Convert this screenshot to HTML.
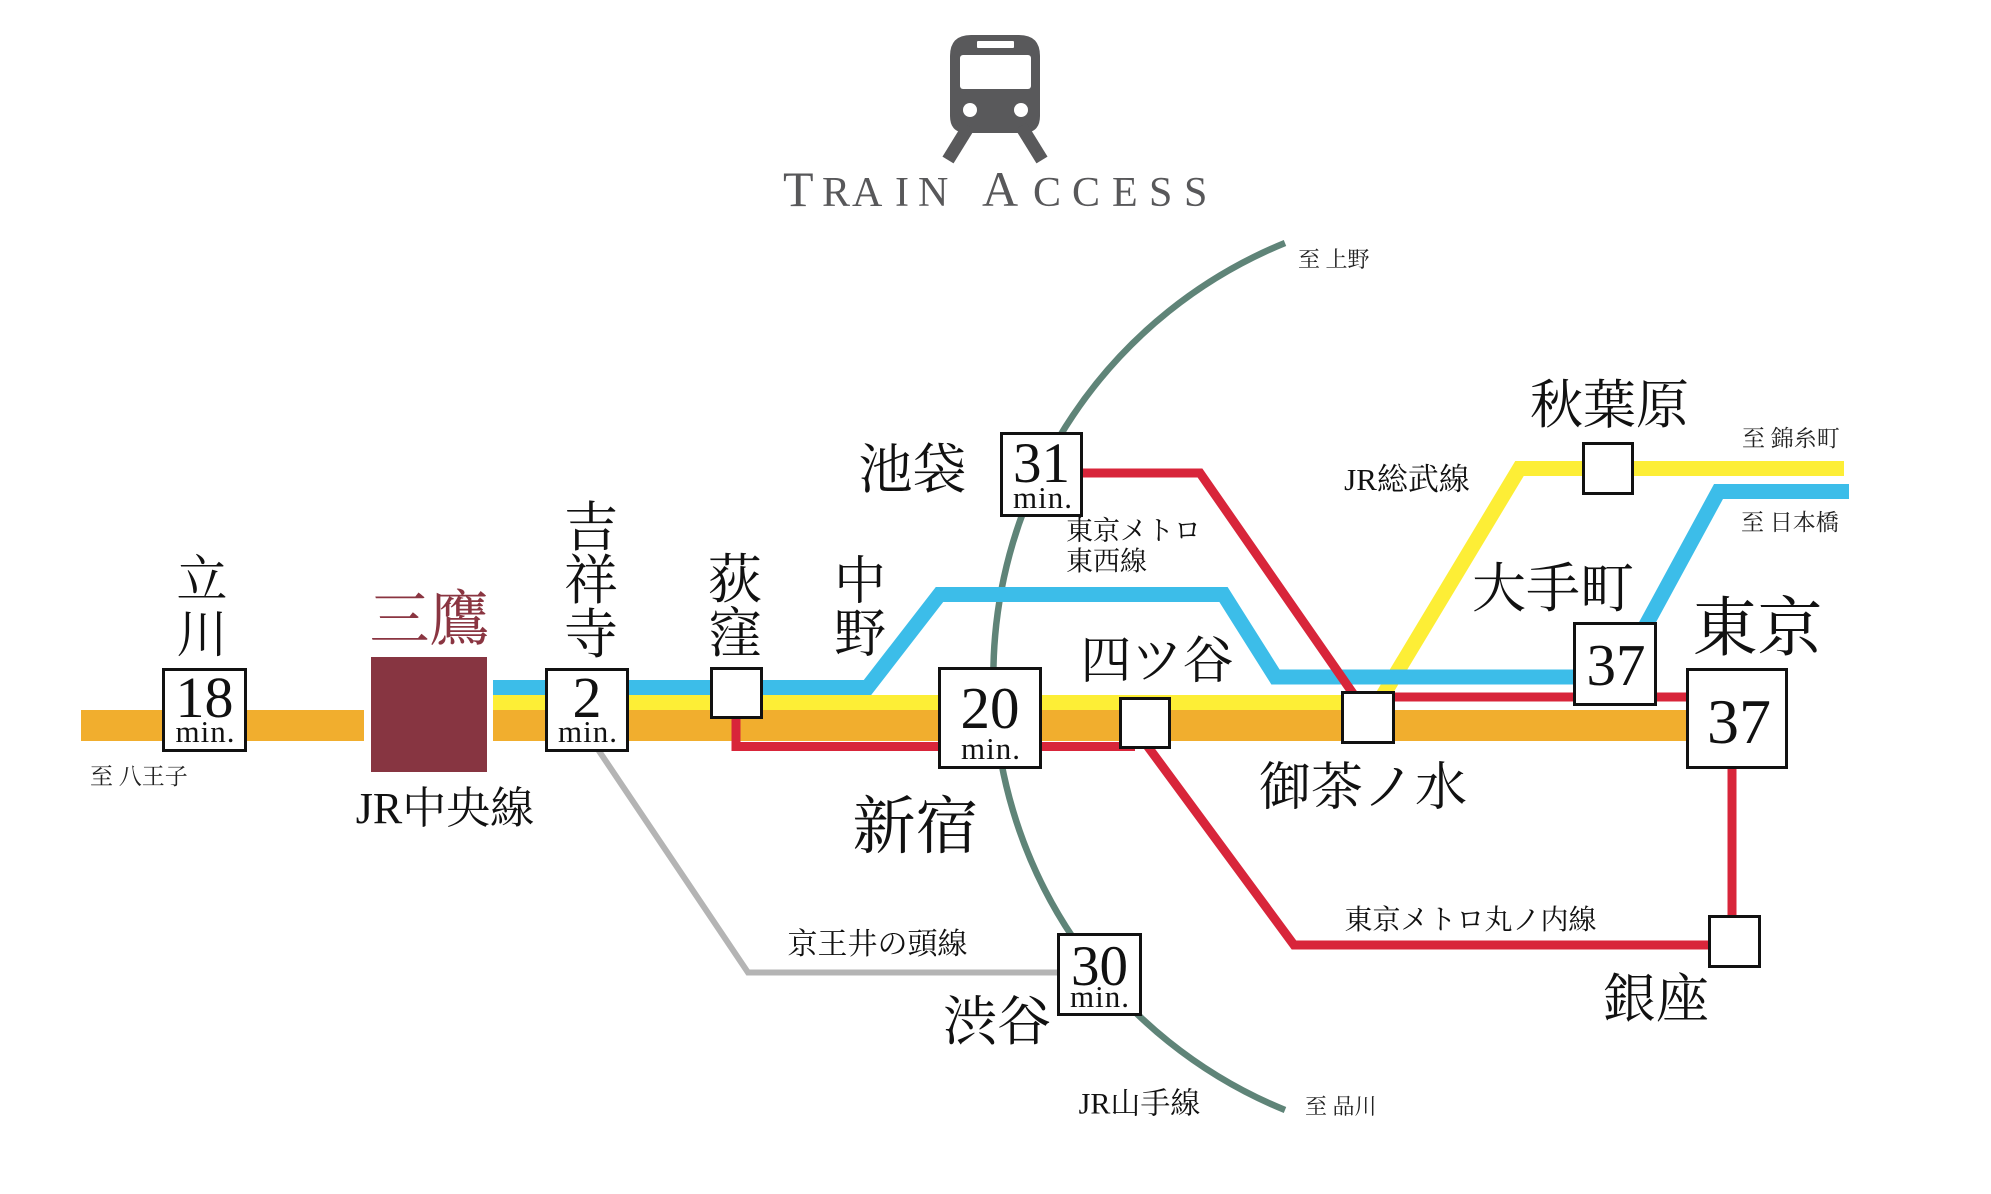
<!DOCTYPE html>
<html>
<head>
<meta charset="utf-8">
<style>
html,body{margin:0;padding:0;background:#fff;}
svg{display:block;}
.k{font-family:"Liberation Serif","Noto Serif CJK SC","Noto Serif CJK JP",serif;fill:#111;}
.n{font-family:"Liberation Serif",serif;fill:#111;}
.s{font-family:"Liberation Serif","Noto Serif CJK SC",serif;fill:#222;}
.t{font-family:"Liberation Serif",serif;fill:#58585a;}
</style>
</head>
<body>
<svg width="1991" height="1194" viewBox="0 0 1991 1194" xmlns="http://www.w3.org/2000/svg">
<rect width="1991" height="1194" fill="#fff"/>

<!-- Train icon -->
<g fill="#59595b">
  <path d="M950,56 Q950,35 971,35 L1019,35 Q1040,35 1040,56 L1040,116 Q1040,133 1023,133 L967,133 Q950,133 950,116 Z"/>
  <line x1="969" y1="126" x2="948" y2="160" stroke="#59595b" stroke-width="13"/>
  <line x1="1021" y1="126" x2="1042" y2="160" stroke="#59595b" stroke-width="13"/>
</g>
<rect x="977" y="41" width="37" height="7" rx="1" fill="#fff"/>
<rect x="960" y="55" width="71" height="34" rx="3" fill="#fff"/>
<circle cx="970" cy="110" r="7" fill="#fff"/>
<circle cx="1021" cy="110" r="7" fill="#fff"/>

<!-- Title -->
<g class="t">
  <text x="783" y="206" font-size="50">T</text>
  <text x="822" y="206" font-size="42">R</text>
  <text x="852" y="206" font-size="42">A</text>
  <text x="895" y="206" font-size="42">I</text>
  <text x="918" y="206" font-size="42">N</text>
  <text x="982" y="206" font-size="50">A</text>
  <text x="1033" y="206" font-size="42">C</text>
  <text x="1072" y="206" font-size="42">C</text>
  <text x="1112" y="206" font-size="42">E</text>
  <text x="1149" y="206" font-size="42">S</text>
  <text x="1184" y="206" font-size="42">S</text>
</g>

<!-- Yamanote arc -->
<path d="M1285,243 A468,468 0 0,0 1285,1110" fill="none" stroke="#5f8478" stroke-width="6.5"/>

<!-- Orange JR Chuo -->
<rect x="81" y="710" width="283" height="31" fill="#f1ae2e"/>
<rect x="493" y="710" width="1200" height="31" fill="#f1ae2e"/>

<!-- Yellow Sobu -->
<rect x="493" y="695" width="860" height="15" fill="#fdee36"/>
<polyline points="1370,717 1519.5,468.5 1844,468.5" fill="none" stroke="#fdee36" stroke-width="15" stroke-linejoin="miter"/>

<!-- Blue Tozai -->
<polyline points="493,687.5 867.5,687.5 939.5,594.5 1223.5,594.5 1275.5,677 1600,677" fill="none" stroke="#3cbde9" stroke-width="15" stroke-linejoin="miter"/>
<polyline points="1627,660 1718.5,491.5 1849,491.5" fill="none" stroke="#3cbde9" stroke-width="15" stroke-linejoin="miter"/>

<!-- Red Marunouchi -->
<polyline points="1060,473 1200,473 1361,705" fill="none" stroke="#d8253a" stroke-width="9" stroke-linejoin="miter"/>
<line x1="1380" y1="697" x2="1700" y2="697" stroke="#d8253a" stroke-width="9"/>
<polyline points="736,700 736,746.5 1135,746.5" fill="none" stroke="#d8253a" stroke-width="9" stroke-linejoin="miter"/>
<polyline points="1143,740 1294,945 1720,945" fill="none" stroke="#d8253a" stroke-width="9" stroke-linejoin="miter"/>
<line x1="1732" y1="760" x2="1732" y2="930" stroke="#d8253a" stroke-width="9"/>

<!-- Keio Inokashira -->
<polyline points="597,748 748,972.5 1065,972.5" fill="none" stroke="#b4b4b4" stroke-width="6" stroke-linejoin="miter"/>

<!-- Mitaka -->
<rect x="371" y="657" width="116" height="115" fill="#873541"/>

<!-- Station boxes -->
<g fill="#fff" stroke="#111" stroke-width="3">
  <rect x="163.5" y="669.5" width="82" height="81"/>
  <rect x="546.5" y="669.5" width="81" height="81"/>
  <rect x="711.5" y="668.5" width="50" height="49"/>
  <rect x="939.5" y="668.5" width="101" height="99"/>
  <rect x="1120.5" y="698.5" width="49" height="49"/>
  <rect x="1342.5" y="692.5" width="51" height="50"/>
  <rect x="1574.5" y="623.5" width="81" height="81"/>
  <rect x="1687.5" y="669.5" width="99" height="98"/>
  <rect x="1583.5" y="443.5" width="49" height="50"/>
  <rect x="1709.5" y="916.5" width="50" height="50"/>
  <rect x="1001.5" y="433.5" width="80" height="82"/>
  <rect x="1058.5" y="934.5" width="82" height="80"/>
</g>

<!-- Box numbers -->
<g class="n" text-anchor="middle">
  <text x="204.5" y="717" font-size="58">18</text>
  <text x="205.5" y="742" font-size="31" letter-spacing="1">min.</text>
  <text x="587" y="717" font-size="58">2</text>
  <text x="588" y="742" font-size="31" letter-spacing="1">min.</text>
  <text x="990" y="728" font-size="59">20</text>
  <text x="991" y="759" font-size="31" letter-spacing="1">min.</text>
  <text x="1041.5" y="482" font-size="57">31</text>
  <text x="1043" y="508" font-size="31" letter-spacing="1">min.</text>
  <text x="1099.5" y="985" font-size="57">30</text>
  <text x="1100" y="1007" font-size="31" letter-spacing="1">min.</text>
  <text x="1616" y="685" font-size="59">37</text>
  <text x="1739" y="743" font-size="64">37</text>
</g>

<!-- Vertical station names -->
<g class="k" text-anchor="middle">
  <text x="202" y="597" font-size="51">立</text>
  <text x="202" y="652" font-size="51">川</text>
  <text x="591" y="546" font-size="54">吉</text>
  <text x="591" y="599" font-size="54">祥</text>
  <text x="591" y="653" font-size="54">寺</text>
  <text x="735" y="598" font-size="54">荻</text>
  <text x="735" y="652" font-size="54">窪</text>
  <text x="860" y="599" font-size="52">中</text>
  <text x="860" y="652" font-size="52">野</text>
</g>

<!-- Horizontal station names -->
<g class="k" text-anchor="middle">
  <text x="429.5" y="640" font-size="60" style="fill:#8a3541">三鷹</text>
  <text x="912.5" y="488" font-size="54">池袋</text>
  <text x="1157" y="678" font-size="51">四ツ谷</text>
  <text x="915.5" y="848" font-size="63">新宿</text>
  <text x="1363" y="805" font-size="52">御茶ノ水</text>
  <text x="997" y="1040" font-size="54">渋谷</text>
  <text x="1609.5" y="423" font-size="53">秋葉原</text>
  <text x="1553" y="607" font-size="54">大手町</text>
  <text x="1757.5" y="650" font-size="65">東京</text>
  <text x="1656" y="1017" font-size="53">銀座</text>
  <text x="445" y="823" font-size="44">JR中央線</text>
  <text x="1407" y="490" font-size="31">JR総武線</text>
  <text x="1470.5" y="929" font-size="28">東京メトロ丸ノ内線</text>
  <text x="877.5" y="954" font-size="30">京王井の頭線</text>
  <text x="1139.5" y="1113.5" font-size="30">JR山手線</text>
</g>
<g class="k">
  <text x="1066" y="540" font-size="27">東京メトロ</text>
  <text x="1066" y="570.5" font-size="27">東西線</text>
</g>

<!-- Direction labels -->
<g class="s">
  <text x="90" y="784" font-size="23">至 八王子</text>
  <text x="1298" y="267" font-size="22">至 上野</text>
  <text x="1742" y="446" font-size="23">至 錦糸町</text>
  <text x="1741" y="530" font-size="23">至 日本橋</text>
  <text x="1305" y="1114" font-size="22">至 品川</text>
</g>
</svg>
</body>
</html>
